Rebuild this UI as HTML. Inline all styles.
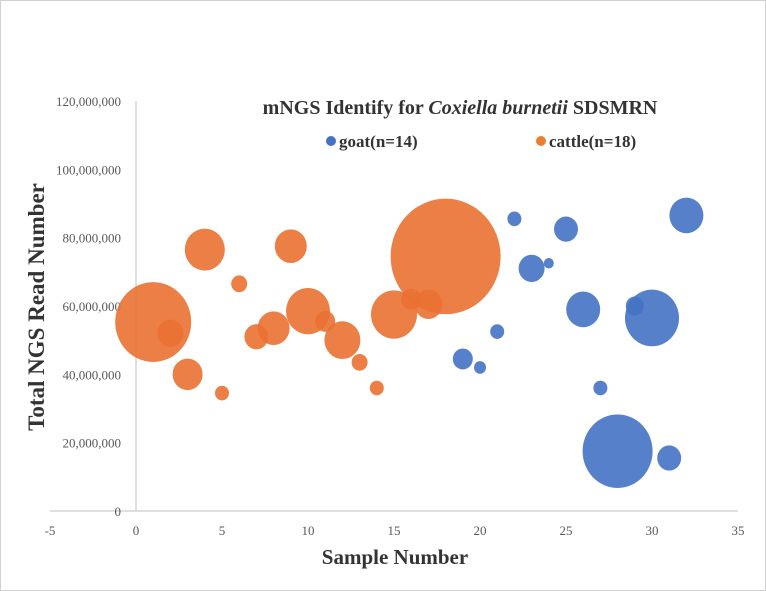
<!DOCTYPE html>
<html><head><meta charset="utf-8"><style>
body{margin:0;background:#fff;}
svg{display:block;font-family:"Liberation Serif",serif;}
</style></head><body>
<svg width="766" height="591" viewBox="0 0 766 591">
<rect x="0.5" y="0.5" width="765" height="590" fill="#fff" stroke="#d0d0d0"/>
<text x="460" y="114" text-anchor="middle" font-size="20" font-weight="bold" fill="#333">mNGS Identify for <tspan font-style="italic">Coxiella burnetii</tspan> SDSMRN</text>
<g id="axes"></g>
<g id="marks"></g>
<g>
<circle cx="331" cy="141" r="5" fill="#4472C4"/>
<text x="339" y="147" font-size="17" font-weight="bold" fill="#333">goat(n=14)</text>
<circle cx="541" cy="141" r="5" fill="#ED7D31"/>
<text x="549" y="147" font-size="17" font-weight="bold" fill="#333">cattle(n=18)</text>
</g>
<text transform="translate(44,307) rotate(-90)" text-anchor="middle" font-size="23" font-weight="bold" fill="#333">Total NGS Read Number</text>
<text x="395" y="564" text-anchor="middle" font-size="21" font-weight="bold" fill="#333">Sample Number</text>
</svg>
<script>
const xTicks=[-5,0,5,10,15,20,25,30,35];
const yTicks=[0,20,40,60,80,100,120];
const cattleX=[1,2,3,4,5,6,7,8,9,10,11,12,13,14,15,16,17,18];
const cattleY=[55.3,52,40,76.5,34.5,66.5,51,53.5,77.5,58.5,55.5,50,43.5,36,57.5,62,60.5,74.5];
const cattleSize=[1444,169,225,400,49,64,144,256,256,484,100,324,64,49,529,100,196,3025];
const goatX=[19,20,21,22,23,24,25,26,27,28,29,30,31,32];
const goatY=[44.5,42,52.5,85.5,71,72.5,82.5,59,36,17.5,60,56.5,15.5,86.5];
const goatSize=[100,36,49,49,169,25,144,289,49,1225,81,729,144,289];
const NS="http://www.w3.org/2000/svg";
const xs=v=>136+(v)*17.2;
const ys=v=>511-v*3.417;
const rs=s=>Math.sqrt(s);
const axes=document.getElementById('axes');
const marks=document.getElementById('marks');
function mk(tag,attrs,parent){const e=document.createElementNS(NS,tag);for(const k in attrs)e.setAttribute(k,attrs[k]);parent.appendChild(e);return e;}
let l=mk('line',{x1:xs(-5),x2:xs(35),y1:ys(0),y2:ys(0),stroke:'#bfbfbf','stroke-width':1},axes);


l=mk('line',{x1:xs(0),x2:xs(0),y1:ys(0),y2:ys(120),stroke:'#bfbfbf','stroke-width':1},axes);


xTicks.forEach(t=>{const e=mk('text',{x:xs(t),y:535,'text-anchor':'middle','font-size':13,fill:'#595959'},axes);e.textContent=t;

});
yTicks.forEach(t=>{const e=mk('text',{x:121,y:ys(t)+5,'text-anchor':'end','font-size':13,fill:'#595959'},axes);e.textContent=t===0?'0':(t*1e6).toLocaleString('en-US');

});
function series(X,Y,S,color,name){X.forEach((x,i)=>{const r=rs(S[i]);const c=mk('ellipse',{cx:xs(x),cy:ys(Y[i]),rx:r,ry:r*1.05,fill:color,'fill-opacity':0.9},marks);

});}
series(cattleX,cattleY,cattleSize,'#E97132','cattle');
series(goatX,goatY,goatSize,'#4472C4','goat');
</script>
</body></html>
